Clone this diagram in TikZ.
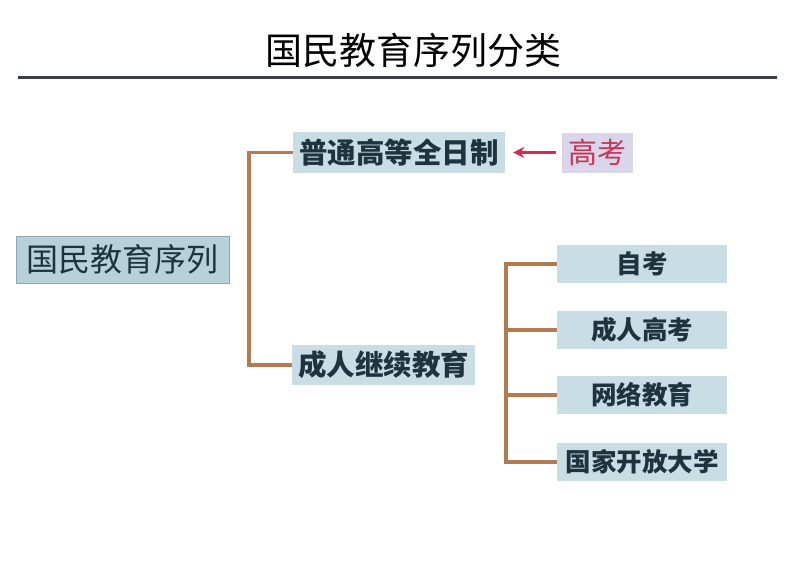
\documentclass[tikz,border=0pt]{standalone}
\usepackage{fontspec}
\setmainfont{Noto Sans CJK SC}
\usetikzlibrary{arrows.meta}
\definecolor{boxfill}{HTML}{C9DDE5}
\definecolor{mainfill}{HTML}{B8D0DA}
\definecolor{mainedge}{HTML}{8FA6B2}
\definecolor{txt}{HTML}{1E3340}
\definecolor{linkc}{HTML}{B47A52}
\definecolor{lavfill}{HTML}{DAD5E8}
\definecolor{redtxt}{HTML}{C4375A}
\definecolor{rulec}{HTML}{3A3E4E}
\tikzset{
  box/.style={fill=boxfill, text=txt, inner sep=0pt, font=\fontsize{28.5}{30}\selectfont\bfseries},
  smallbox/.style={box, minimum width=170pt, minimum height=38pt, font=\fontsize{25.5}{27}\selectfont\bfseries},
  link/.style={draw=linkc, line width=3.2pt},
}
\begin{document}
\begin{tikzpicture}[x=1pt,y=-1pt]
\useasboundingbox[fill=white] (0,0) rectangle (800,560);
% title
\node[font=\fontsize{37}{39}\selectfont, text=black] (title) at (413,50) {国民教育序列分类};
\coordinate (rl) at (18,77);
\coordinate (rr) at (777,77);
\draw[rulec, line width=3pt] (rl) -- (rr);
% main box
\node[fill=mainfill, draw=mainedge, line width=1pt, text=txt, minimum width=213pt, minimum height=47pt, inner sep=0pt, font=\fontsize{32}{34}\selectfont] (main) at (122.5,259.5) {国民教育序列};
% level 1
\node[box, minimum width=212pt, minimum height=41pt] (pt) at (399,152.5) {普通高等全日制};
\node[box, minimum width=183pt, minimum height=40pt] (cr) at (383.5,365) {成人继续教育};
\node[fill=lavfill, text=redtxt, minimum width=71pt, minimum height=40pt, inner sep=0pt, font=\fontsize{29}{31}\selectfont] (gk) at (597.5,152.5) {高考};
\draw[redtxt!90!red, line width=2.4pt, -{Stealth[length=11pt,width=11pt]}] ([xshift=-6pt]gk.west) -- ([xshift=8pt]pt.east);
% level 2
\node[smallbox] (zk) at (642,264) {自考};
\node[smallbox] (crgk) at (642,330) {成人高考};
\node[smallbox] (wl) at (642,395) {网络教育};
\node[smallbox] (gj) at (642,462) {国家开放大学};
% brackets
\coordinate (b1) at (249,0);
\draw[link] (pt.west) -| (b1 |- cr.west) -- (cr.west);
\coordinate (b2) at (506,0);
\draw[link] (zk.west) -| (b2 |- gj.west) -- (gj.west);
\draw[link] (b2 |- crgk.west) -- (crgk.west);
\draw[link] (b2 |- wl.west) -- (wl.west);
\end{tikzpicture}
\end{document}
